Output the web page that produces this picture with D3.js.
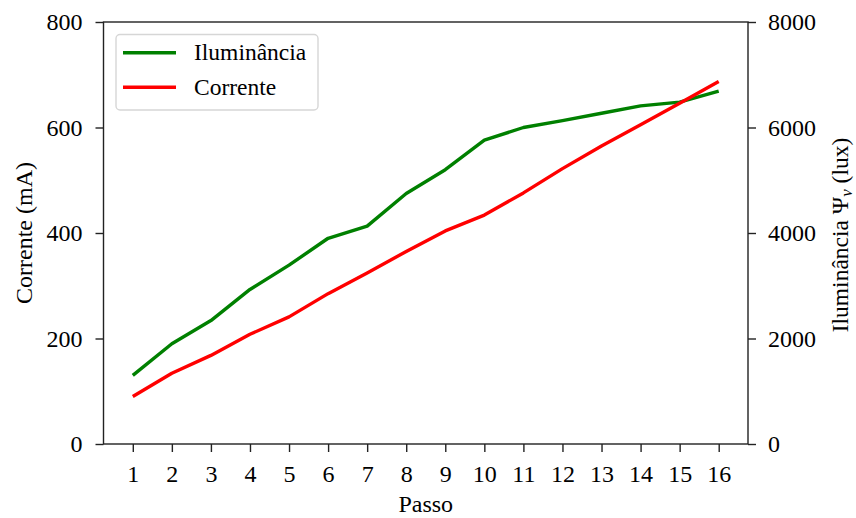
<!DOCTYPE html>
<html>
<head>
<meta charset="utf-8">
<script src="https://cdn.jsdelivr.net/npm/d3@7"></script>
<style>
  html, body { margin: 0; padding: 0; background: #fff; }
  svg { display: block; font-family: "Liberation Serif", "Times New Roman", serif; }
</style>
</head>
<body>
<svg id="chart" width="856" height="518"></svg>
<script>
// Step index (Passo)
const steps = [1, 2, 3, 4, 5, 6, 7, 8, 9, 10, 11, 12, 13, 14, 15, 16];
// Current in mA (left axis)
const corrente = [90, 134, 168, 208, 241, 285, 324, 365, 404, 434, 476, 522, 565, 605, 646, 687];
// Illuminance in lux (right axis)
const iluminancia = [1300, 1900, 2340, 2930, 3390, 3900, 4130, 4750, 5200, 5760, 6000, 6130, 6270, 6410, 6480, 6690];
// Tick values
const leftTicks = [0, 200, 400, 600, 800];
const rightTicks = [0, 2000, 4000, 6000, 8000];

const svg = d3.select("#chart");
const m = { left: 103.5, right: 748, top: 22, bottom: 444 };
const axisColor = "#222";
const fontSize = 24;
const fontFamily = '"Liberation Serif", "Times New Roman", serif';

const x = d3.scaleLinear().domain([0.25, 16.75]).range([m.left, m.right]);
const yL = d3.scaleLinear().domain([0, 800]).range([m.bottom, m.top]);
const yR = d3.scaleLinear().domain([0, 8000]).range([m.bottom, m.top]);

// Data lines
const lineL = d3.line().x((d, i) => x(steps[i])).y(d => yL(d));
const lineR = d3.line().x((d, i) => x(steps[i])).y(d => yR(d));

svg.append("path").datum(iluminancia)
  .attr("d", lineR).attr("fill", "none")
  .attr("stroke", "#008000").attr("stroke-width", 3.4).attr("stroke-linejoin", "round");
svg.append("path").datum(corrente)
  .attr("d", lineL).attr("fill", "none")
  .attr("stroke", "#ff0000").attr("stroke-width", 3.4).attr("stroke-linejoin", "round");

// Axes
function styleAxis(g) {
  g.selectAll(".domain").remove();
  g.selectAll("line").attr("stroke", axisColor).attr("stroke-width", 1.4);
  g.selectAll("text").attr("fill", "#000").style("font-size", fontSize + "px")
    .style("font-family", fontFamily);
}

svg.append("g").attr("transform", `translate(0,${m.bottom})`)
  .call(d3.axisBottom(x).tickValues(steps).tickFormat(d3.format("d"))
    .tickSizeOuter(0).tickSize(8).tickPadding(13))
  .call(styleAxis);

svg.append("g").attr("transform", `translate(${m.left},0)`)
  .call(d3.axisLeft(yL).tickValues(leftTicks).tickFormat(d3.format("d"))
    .tickSizeOuter(0).tickSize(8).tickPadding(13))
  .call(styleAxis);

svg.append("g").attr("transform", `translate(${m.right},0)`)
  .call(d3.axisRight(yR).tickValues(rightTicks).tickFormat(d3.format("d"))
    .tickSizeOuter(0).tickSize(8).tickPadding(12))
  .call(styleAxis);

// Frame
svg.append("rect")
  .attr("x", m.left).attr("y", m.top)
  .attr("width", m.right - m.left).attr("height", m.bottom - m.top)
  .attr("fill", "none").attr("stroke", axisColor).attr("stroke-width", 1.4);

// Axis titles
svg.append("text")
  .attr("x", (m.left + m.right) / 2).attr("y", 512)
  .attr("text-anchor", "middle").style("font-size", fontSize + "px")
  .text("Passo");

svg.append("text")
  .attr("transform", `translate(32,${(m.top + m.bottom) / 2}) rotate(-90)`)
  .attr("text-anchor", "middle").style("font-size", fontSize + "px")
  .text("Corrente (mA)");

const rt = svg.append("text")
  .attr("transform", `translate(848,${(m.top + m.bottom) / 2 + 2}) rotate(-90)`)
  .attr("text-anchor", "middle").style("font-size", "23.5px");
rt.append("tspan").text("Iluminância Ψ");
rt.append("tspan").attr("font-style", "italic").attr("dy", 4).style("font-size", "17px").text("v");
rt.append("tspan").attr("dy", -4).text(" (lux)");

// Legend
const legend = svg.append("g");
legend.append("rect")
  .attr("x", 116).attr("y", 34.5).attr("width", 202).attr("height", 75.5)
  .attr("rx", 4).attr("fill", "#fff").attr("fill-opacity", 0.8)
  .attr("stroke", "#d6d6d6").attr("stroke-width", 1.4);
const legendItems = [
  { label: "Iluminância", color: "#008000" },
  { label: "Corrente", color: "#ff0000" }
];
legendItems.forEach((it, i) => {
  const yy = 52.7 + i * 34.6;
  legend.append("line")
    .attr("x1", 123).attr("x2", 176).attr("y1", yy).attr("y2", yy)
    .attr("stroke", it.color).attr("stroke-width", 3.4);
  legend.append("text")
    .attr("x", 194).attr("y", yy).attr("dy", "0.33em")
    .style("font-size", "23.5px").text(it.label);
});
</script>
</body>
</html>
